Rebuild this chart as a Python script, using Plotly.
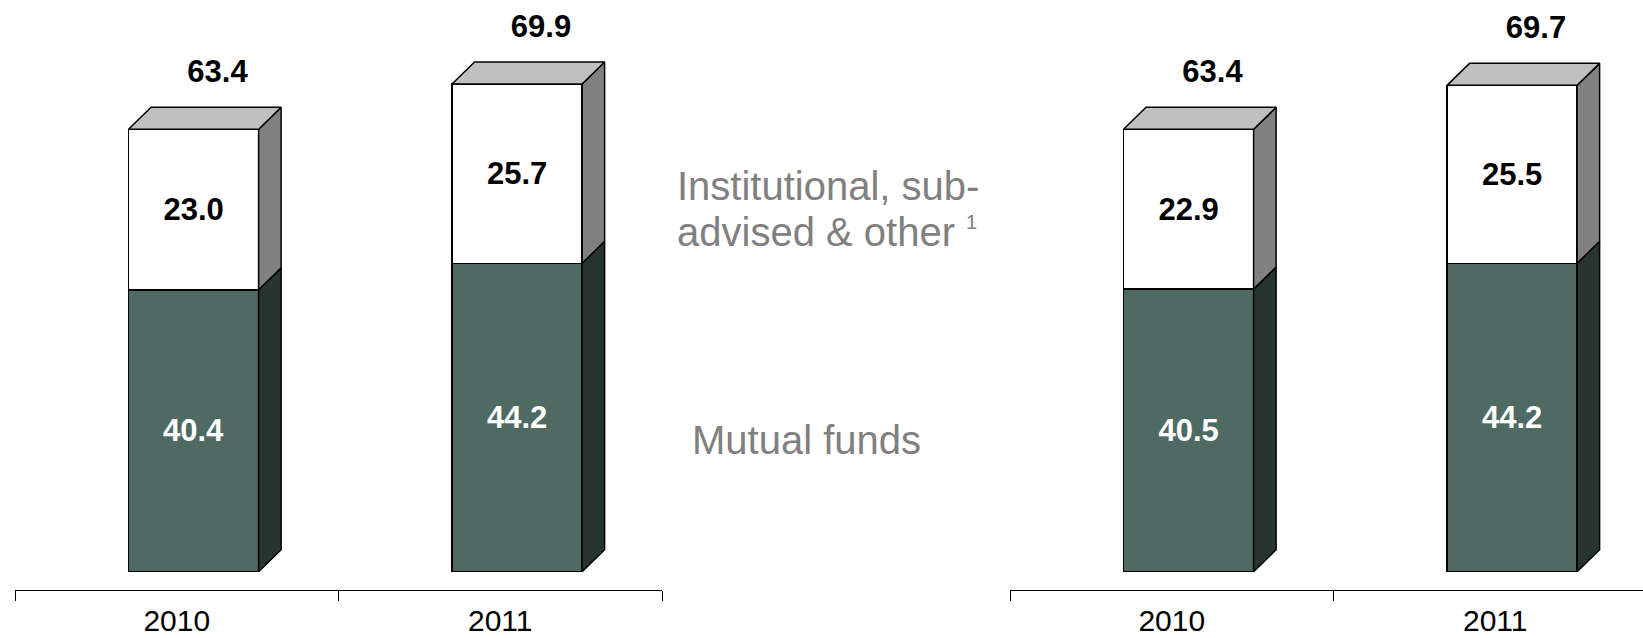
import plotly.graph_objects as go

# Assets by year (two panels), stacked: mutual funds + institutional/sub-advised/other
years = ["2010", "2011"]
mutual_left = [40.4, 44.2]
inst_left = [23.0, 25.7]
mutual_right = [40.5, 44.2]
inst_right = [22.9, 25.5]

W, H = 1643, 638

# styling
GREEN = "#4F6A63"
GREEN_SIDE = "#27352F"
WHITE = "#FFFFFF"
WHITE_SIDE = "#808080"
TOP = "#C0C0C0"
EDGE = "black"
FONT = "Arial, Liberation Sans, sans-serif"
GRAY_TEXT = "#808080"

# geometry (data units) for the 3-D look
BAR_W = 0.402        # front face width
BAR_OFF = -0.149     # front face left edge relative to category centre
DEPTH_X = 0.0696
DEPTH_Y = 3.15
TOTAL_DX = 0.074     # total label offset from the front-face centre
TOTAL_DY = 7.85

# axis ranges (px per unit kept equal in both panels)
PX_PER_X = 323.5
Y_LO, Y_HI = -2.62, 81.93

fig = go.Figure()


def add_panel(mutual, inst, xa, ya):
    xs = list(range(len(years)))
    totals = [round(m + i, 1) for m, i in zip(mutual, inst)]

    # front faces as stacked bars
    fig.add_trace(go.Bar(
        x=xs, y=mutual, width=BAR_W, offset=BAR_OFF,
        marker=dict(color=GREEN, line=dict(color=EDGE, width=1.5)),
        text=[f"{v:.1f}" for v in mutual], textposition="inside",
        insidetextanchor="middle",
        textfont=dict(family=FONT, size=31, color="white", weight="bold"),
        xaxis=xa, yaxis=ya, showlegend=False, hoverinfo="skip"))
    fig.add_trace(go.Bar(
        x=xs, y=inst, width=BAR_W, offset=BAR_OFF,
        marker=dict(color=WHITE, line=dict(color=EDGE, width=1.5)),
        text=[f"{v:.1f}" for v in inst], textposition="inside",
        insidetextanchor="middle",
        textfont=dict(family=FONT, size=31, color="black", weight="bold"),
        xaxis=xa, yaxis=ya, showlegend=False, hoverinfo="skip"))

    # side and top faces built from the same values
    def side(x, y0, y1):
        xr = x + BAR_OFF + BAR_W
        return ([xr, xr + DEPTH_X, xr + DEPTH_X, xr, xr, None],
                [y0, y0 + DEPTH_Y, y1 + DEPTH_Y, y1, y0, None])

    faces = {GREEN_SIDE: ([], []), WHITE_SIDE: ([], []), TOP: ([], [])}
    for x, m, i in zip(xs, mutual, inst):
        px, py = side(x, 0, m)
        faces[GREEN_SIDE][0].extend(px); faces[GREEN_SIDE][1].extend(py)
        px, py = side(x, m, m + i)
        faces[WHITE_SIDE][0].extend(px); faces[WHITE_SIDE][1].extend(py)
        xl = x + BAR_OFF
        xr = xl + BAR_W
        t = m + i
        faces[TOP][0].extend([xl, xl + DEPTH_X, xr + DEPTH_X, xr, xl, None])
        faces[TOP][1].extend([t, t + DEPTH_Y, t + DEPTH_Y, t, t, None])

    for color, (fx, fy) in faces.items():
        fig.add_trace(go.Scatter(
            x=fx, y=fy, mode="lines", fill="toself", fillcolor=color,
            line=dict(color=EDGE, width=1.5),
            xaxis=xa, yaxis=ya, showlegend=False, hoverinfo="skip"))

    # totals above each bar
    fig.add_trace(go.Scatter(
        x=[x + BAR_OFF + BAR_W / 2 + TOTAL_DX for x in xs],
        y=[t + TOTAL_DY for t in totals],
        mode="text", text=[f"{t:.1f}" for t in totals],
        textposition="middle center",
        textfont=dict(family=FONT, size=31, color="black", weight="bold"),
        xaxis=xa, yaxis=ya, showlegend=False, hoverinfo="skip"))


add_panel(mutual_left, inst_left, "x", "y")
add_panel(mutual_right, inst_right, "x2", "y2")

left_dom = [15 / W, 662 / W]
right_dom = [1010 / W, 1.0]


def xaxis_cfg(domain):
    width_px = (domain[1] - domain[0]) * W
    return dict(
        domain=domain, range=[-0.5, -0.5 + width_px / PX_PER_X],
        automargin=False,
        showgrid=False, zeroline=False, showline=True,
        linecolor="black", linewidth=1,
        tickmode="array", tickvals=[0, 1], ticktext=years, ticks="",
        ticklabelstandoff=4,
        tickfont=dict(family=FONT, size=30, color="black"),
        minor=dict(tickmode="array", tickvals=[-0.5, 0.5, 1.5],
                   ticks="outside", ticklen=10, tickcolor="black",
                   tickwidth=1, showgrid=False),
        fixedrange=True)


def yaxis_cfg(anchor):
    return dict(domain=[48 / H, 1.0], range=[Y_LO, Y_HI], visible=False,
                automargin=False,
                showgrid=False, zeroline=False, anchor=anchor, fixedrange=True)


def label(text, x_px, y_px):
    return dict(text=text, xref="paper", yref="paper",
                x=x_px / W, y=1 - y_px / H,
                xanchor="left", yanchor="middle", align="left",
                showarrow=False,
                font=dict(family=FONT, size=40, color=GRAY_TEXT))


fig.update_layout(
    width=W, height=H,
    margin=dict(l=0, r=0, t=0, b=0, autoexpand=False),
    paper_bgcolor="white", plot_bgcolor="white",
    barmode="stack",
    xaxis=dict(**xaxis_cfg(left_dom), anchor="y"),
    yaxis=yaxis_cfg("x"),
    xaxis2=dict(**xaxis_cfg(right_dom), anchor="y2"),
    yaxis2=yaxis_cfg("x2"),
    annotations=[
        label("Institutional, sub-", 675, 186),
        label("advised & other <sup><span style='font-size:20px'>1</span></sup>",
              675, 232),
        label("Mutual funds", 690, 440),
    ],
)

fig.write_html("out.html")
